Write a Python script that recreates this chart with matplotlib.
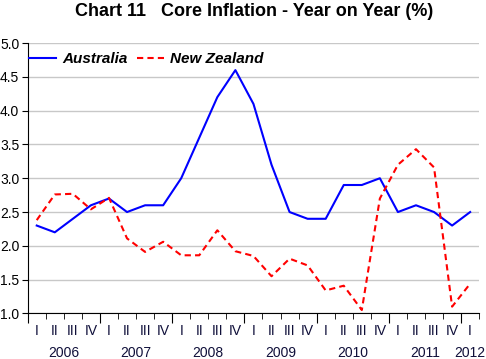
import numpy as np
import matplotlib
matplotlib.use("Agg")
import matplotlib.pyplot as plt

plt.rcParams['font.family'] = ['Liberation Sans', 'DejaVu Sans']

# quarterly data, 2006 Q1 .. 2012 Q1
quarters = ['I', 'II', 'III', 'IV'] * 6 + ['I']
years = ['2006', '2007', '2008', '2009', '2010', '2011', '2012']
australia = [2.3, 2.2, 2.4, 2.6, 2.7, 2.5, 2.6, 2.6, 3.0, 3.6, 4.2, 4.6,
             4.1, 3.2, 2.5, 2.4, 2.4, 2.9, 2.9, 3.0, 2.5, 2.6, 2.5, 2.3, 2.5]
new_zealand = [2.38, 2.76, 2.77, 2.54, 2.71, 2.11, 1.91, 2.06, 1.86, 1.86, 2.23, 1.92,
               1.85, 1.55, 1.81, 1.71, 1.34, 1.41, 1.05, 2.7, 3.2, 3.43, 3.16, 1.10, 1.44]

x = np.arange(len(australia)) + 0.5

fig = plt.figure(figsize=(4.86, 3.59), dpi=100)
ax = fig.add_axes([0.057, 0.127, 0.929, 0.753])

ax.plot(x, australia, color='#0000ff', lw=1.5, label='Australia')
ax.plot(x, new_zealand, color='#ff0000', lw=1.5, ls=(0, (3, 2)), label='New Zealand')

ax.set_xlim(0, len(australia))
ax.set_ylim(1.0, 5.0)
ax.set_yticks(np.arange(1.0, 5.01, 0.5))
ax.set_yticklabels(['%.1f' % v for v in np.arange(1.0, 5.01, 0.5)], fontsize=10)
ax.grid(axis='y', color='#c8c8c8', lw=1)
ax.set_axisbelow(True)

ax.spines['top'].set_visible(False)
ax.spines['right'].set_visible(False)

# year boundaries as major ticks, quarters as minor ticks
ax.set_xticks(np.arange(0, len(australia) + 1, 4))
ax.set_xticklabels([])
ax.set_xticks(np.arange(0, len(australia) + 1), minor=True)
ax.tick_params(axis='x', which='major', length=7, direction='out')
ax.tick_params(axis='x', which='minor', length=4, direction='out')
ax.tick_params(axis='y', length=4, direction='out', labelsize=10, pad=2)

for xi, q in zip(x, quarters):
    ax.text(xi, -0.080, q, transform=ax.get_xaxis_transform(), ha='center', va='baseline',
            fontsize=10, color='#10103a')
for k, yr in enumerate(years):
    pos = min(k * 4 + 2, len(australia) - 0.5)
    ax.text(pos, -0.161, yr, transform=ax.get_xaxis_transform(), ha='center', va='baseline',
            fontsize=10, color='#10103a')

leg = ax.legend(loc='upper left', ncol=2, frameon=False, bbox_to_anchor=(-0.027, 1.018),
                prop={'weight': 'bold', 'style': 'italic', 'size': 11},
                handlelength=1.75, columnspacing=0.65, handletextpad=0.4)

fig.text(0.523, 0.967, 'Chart 11   Core Inflation - Year on Year (%)', ha='center',
         va='center', fontsize=13, fontweight='bold')

fig.savefig('out.png', dpi=100)
